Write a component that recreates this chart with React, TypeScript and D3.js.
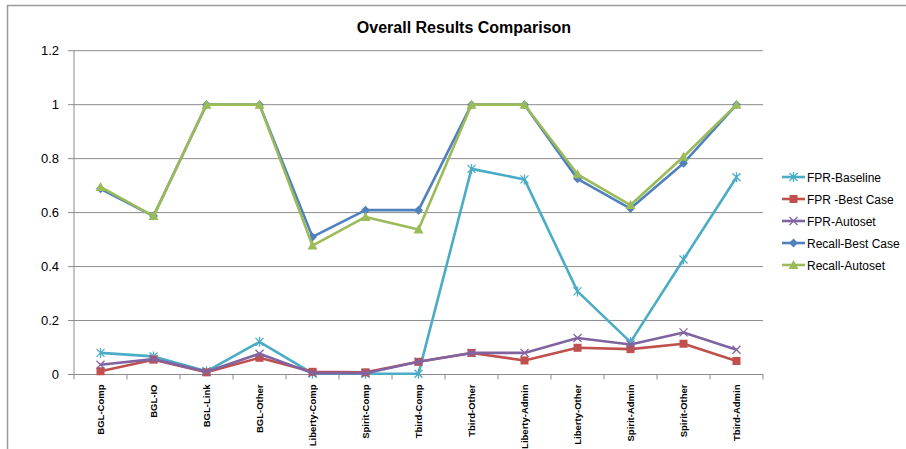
import React from "react";
import * as d3 from "d3";

const categories = ["BGL-Comp","BGL-IO","BGL-Link","BGL-Other","Liberty-Comp","Spirit-Comp","Tbird-Comp","Tbird-Other","Liberty-Admin","Liberty-Other","Spirit-Admin","Spirit-Other","Tbird-Admin"];
const fprBaseline = [0.08,0.067,0.012,0.121,0.004,0.003,0.003,0.762,0.723,0.308,0.12,0.426,0.731];
const fprBest = [0.012,0.055,0.008,0.062,0.01,0.008,0.047,0.08,0.052,0.099,0.094,0.114,0.05];
const fprAutoset = [0.036,0.057,0.01,0.077,0.005,0.005,0.047,0.08,0.08,0.135,0.111,0.156,0.092];
const recallBest = [0.688,0.587,1,1,0.51,0.609,0.609,1,1,0.725,0.615,0.783,1];
const recallAutoset = [0.695,0.587,1,1,0.478,0.584,0.537,1,1,0.742,0.628,0.807,1];
const yTicks = [0,0.2,0.4,0.6,0.8,1,1.2];
const seriesNames = ["FPR-Baseline","FPR -Best Case","FPR-Autoset","Recall-Best Case","Recall-Autoset"];

const series = [
  { name: seriesNames[0], values: fprBaseline, color: "#4BACC6", marker: "star" },
  { name: seriesNames[1], values: fprBest, color: "#C0504D", marker: "square" },
  { name: seriesNames[2], values: fprAutoset, color: "#8064A2", marker: "x" },
  { name: seriesNames[3], values: recallBest, color: "#4F81BD", marker: "diamond" },
  { name: seriesNames[4], values: recallAutoset, color: "#9BBB59", marker: "triangle" },
];

function Marker({ type, x, y, color }: { type: string; x: number; y: number; color: string }) {
  if (type === "square") return <rect x={x - 4} y={y - 4} width={8} height={8} fill={color} />;
  if (type === "diamond") return <path d={`M${x},${y - 4.5}L${x + 4.5},${y}L${x},${y + 4.5}L${x - 4.5},${y}Z`} fill={color} />;
  if (type === "triangle") return <path d={`M${x},${y - 5}L${x + 5},${y + 4}L${x - 5},${y + 4}Z`} fill={color} />;
  if (type === "x") return <path d={`M${x - 4},${y - 4}L${x + 4},${y + 4}M${x - 4},${y + 4}L${x + 4},${y - 4}`} stroke={color} strokeWidth={1.3} />;
  return <path d={`M${x - 4},${y - 4}L${x + 4},${y + 4}M${x - 4},${y + 4}L${x + 4},${y - 4}M${x},${y - 5}L${x},${y + 5}`} stroke={color} strokeWidth={1.3} />;
}

export default function App() {
  const W = 906, H = 449;
  const left = 74, right = 763, top = 50.7, bottom = 374.5;
  const x = d3.scaleBand<string>().domain(categories).range([left, right]);
  const y = d3.scaleLinear().domain([0, 1.2]).range([bottom, top]);
  const cx = (c: string) => (x(c) as number) + x.bandwidth() / 2;
  const line = d3.line<number>().x((_, i) => cx(categories[i])).y((v) => y(v));
  const font = "'Liberation Sans', Arial, sans-serif";
  return (
    <svg width={W} height={H} style={{ position: "absolute", left: 0, top: 0, background: "#fff" }} fontFamily={font}>
      <path d={`M7.5,${H}V5.5H${W}`} fill="none" stroke="#9a9a9a" strokeWidth={1.5} />
      <text x={464} y={33} textAnchor="middle" fontSize={16} fontWeight="bold" fill="#000">Overall Results Comparison</text>
      {yTicks.map((t) => (
        <g key={t}>
          {t > 0 && <line x1={left} x2={right} y1={y(t)} y2={y(t)} stroke="#8c8c8c" strokeWidth={1} />}
          <line x1={left - 6} x2={left} y1={y(t)} y2={y(t)} stroke="#8c8c8c" />
          <text x={59} y={y(t) + 4.5} textAnchor="end" fontSize={13} fill="#000">{String(t)}</text>
        </g>
      ))}
      <line x1={left} x2={left} y1={top} y2={bottom} stroke="#8c8c8c" />
      <line x1={left} x2={right} y1={bottom} y2={bottom} stroke="#8c8c8c" />
      {categories.map((c, i) => (
        <line key={"t" + i} x1={(x(c) as number) + x.bandwidth()} x2={(x(c) as number) + x.bandwidth()} y1={bottom} y2={bottom + 5} stroke="#8c8c8c" />
      ))}
      <line x1={left} x2={left} y1={bottom} y2={bottom + 5} stroke="#8c8c8c" />
      {categories.map((c) => (
        <text key={c} transform={`translate(${cx(c) + 3.5},${bottom + 10}) rotate(-90)`} textAnchor="end" fontSize={9.5} fontWeight="bold" fill="#000">{c}</text>
      ))}
      {series.map((s) => (
        <g key={s.name}>
          <path d={line(s.values) || ""} fill="none" stroke={s.color} strokeWidth={2.6} strokeLinejoin="round" />
          {s.values.map((v, i) => (
            <Marker key={i} type={s.marker} x={cx(categories[i])} y={y(v)} color={s.color} />
          ))}
        </g>
      ))}
      {series.map((s, i) => {
        const ly = 177 + i * 22;
        return (
          <g key={"l" + s.name}>
            <line x1={782} x2={805} y1={ly} y2={ly} stroke={s.color} strokeWidth={2.6} />
            <Marker type={s.marker} x={793.5} y={ly} color={s.color} />
            <text x={807} y={ly + 4.5} fontSize={12} fill="#000">{s.name}</text>
          </g>
        );
      })}
    </svg>
  );
}
